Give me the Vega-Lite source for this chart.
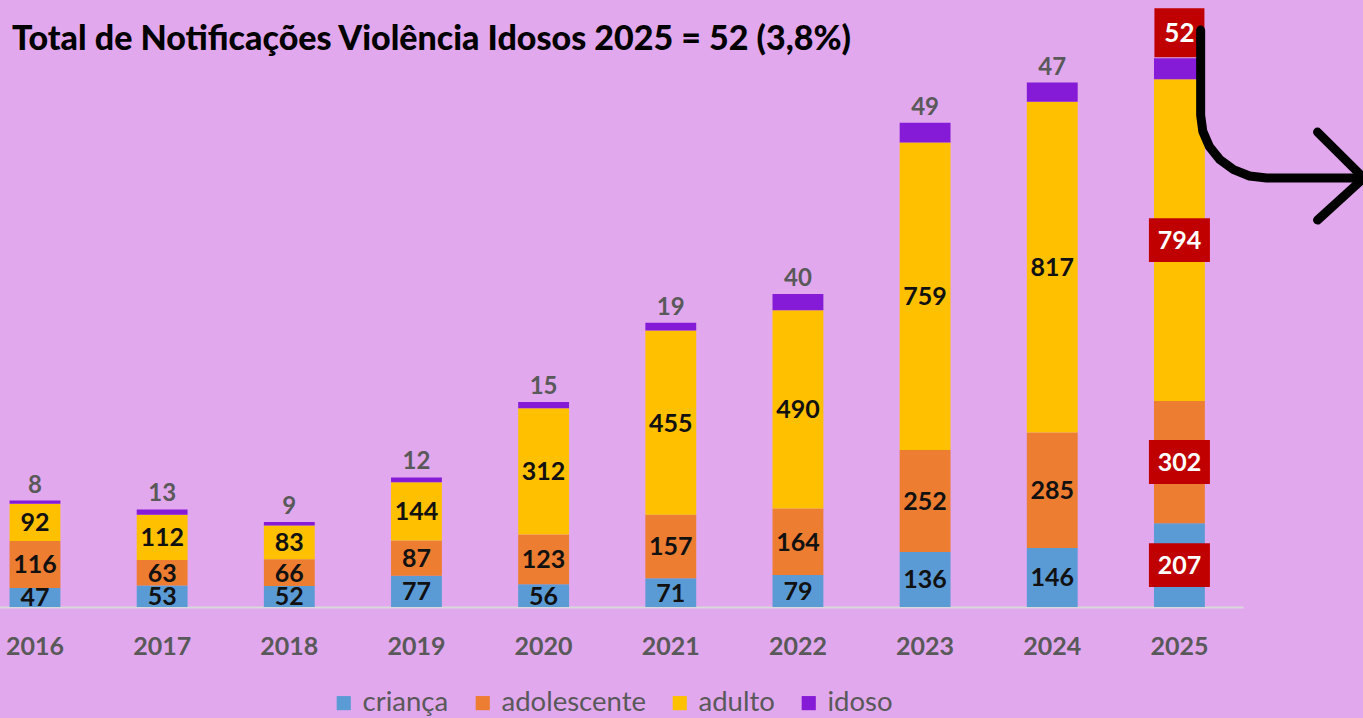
{
  "$schema": "https://vega.github.io/schema/vega-lite/v6.json",
  "width": 1243,
  "height": 607,
  "autosize": {"type": "none"},
  "padding": {"left": 0, "top": 0, "right": 120, "bottom": 111},
  "background": "#E1A8EE",
  "title": {
    "text": "Total de Notificações Violência Idosos 2025 = 52 (3,8%)",
    "anchor": "start",
    "frame": "group",
    "orient": "top",
    "offset": 0,
    "baseline": "alphabetic",
    "dx": 12,
    "dy": 84,
    "font": "Lato",
    "fontSize": 34,
    "fontWeight": 900,
    "color": "#000000"
  },
  "datasets": {
    "bars": [
      {"year": "2016", "cat": "criança", "value": 47},
      {"year": "2016", "cat": "adolescente", "value": 116},
      {"year": "2016", "cat": "adulto", "value": 92},
      {"year": "2016", "cat": "idoso", "value": 8},
      {"year": "2017", "cat": "criança", "value": 53},
      {"year": "2017", "cat": "adolescente", "value": 63},
      {"year": "2017", "cat": "adulto", "value": 112},
      {"year": "2017", "cat": "idoso", "value": 13},
      {"year": "2018", "cat": "criança", "value": 52},
      {"year": "2018", "cat": "adolescente", "value": 66},
      {"year": "2018", "cat": "adulto", "value": 83},
      {"year": "2018", "cat": "idoso", "value": 9},
      {"year": "2019", "cat": "criança", "value": 77},
      {"year": "2019", "cat": "adolescente", "value": 87},
      {"year": "2019", "cat": "adulto", "value": 144},
      {"year": "2019", "cat": "idoso", "value": 12},
      {"year": "2020", "cat": "criança", "value": 56},
      {"year": "2020", "cat": "adolescente", "value": 123},
      {"year": "2020", "cat": "adulto", "value": 312},
      {"year": "2020", "cat": "idoso", "value": 15},
      {"year": "2021", "cat": "criança", "value": 71},
      {"year": "2021", "cat": "adolescente", "value": 157},
      {"year": "2021", "cat": "adulto", "value": 455},
      {"year": "2021", "cat": "idoso", "value": 19},
      {"year": "2022", "cat": "criança", "value": 79},
      {"year": "2022", "cat": "adolescente", "value": 164},
      {"year": "2022", "cat": "adulto", "value": 490},
      {"year": "2022", "cat": "idoso", "value": 40},
      {"year": "2023", "cat": "criança", "value": 136},
      {"year": "2023", "cat": "adolescente", "value": 252},
      {"year": "2023", "cat": "adulto", "value": 759},
      {"year": "2023", "cat": "idoso", "value": 49},
      {"year": "2024", "cat": "criança", "value": 146},
      {"year": "2024", "cat": "adolescente", "value": 285},
      {"year": "2024", "cat": "adulto", "value": 817},
      {"year": "2024", "cat": "idoso", "value": 47},
      {"year": "2025", "cat": "criança", "value": 207},
      {"year": "2025", "cat": "adolescente", "value": 302},
      {"year": "2025", "cat": "adulto", "value": 794},
      {"year": "2025", "cat": "idoso", "value": 52}
    ],
    "arrow": [
      {"path": "a", "i": 1, "ax": 9.667, "ay": 1424.7},
      {"path": "a", "i": 2, "ax": 9.667, "ay": 1214.8},
      {"path": "a", "i": 3, "ax": 9.684, "ay": 1174.6},
      {"path": "a", "i": 4, "ax": 9.736, "ay": 1137.0},
      {"path": "a", "i": 5, "ax": 9.818, "ay": 1104.9},
      {"path": "a", "i": 6, "ax": 9.926, "ay": 1080.0},
      {"path": "a", "i": 7, "ax": 10.051, "ay": 1064.4},
      {"path": "a", "i": 8, "ax": 10.186, "ay": 1059.3},
      {"path": "a", "i": 9, "ax": 10.95, "ay": 1059.3},
      {"path": "b", "i": 1, "ax": 10.586, "ay": 1172.8},
      {"path": "b", "i": 2, "ax": 10.95, "ay": 1059.3},
      {"path": "b", "i": 3, "ax": 10.586, "ay": 955.6}
    ]
  },
  "layer": [
    {
      "data": {"name": "bars"},
      "transform": [
        {"calculate": "indexof(['criança','adolescente','adulto','idoso'], datum.cat)", "as": "ord"},
        {"stack": "value", "groupby": ["year"], "sort": [{"field": "ord", "order": "ascending"}], "as": ["v0", "v1"]},
        {"calculate": "(datum.v0 + datum.v1) / 2", "as": "mid"}
      ],
      "encoding": {
        "x": {
          "field": "year",
          "type": "nominal",
          "title": null,
          "scale": {"range": [-28.6, 1243], "paddingInner": 0.6, "paddingOuter": 0.3},
          "axis": {
            "domainColor": "#D9D9D9",
            "domainWidth": 2,
            "ticks": false,
            "tickSize": 0,
            "labelAngle": 0,
            "labelFont": "Lato",
            "labelFontSize": 25,
            "labelFontWeight": "bold",
            "labelColor": "#595959",
            "labelPadding": 27,
            "grid": false
          }
        }
      },
      "layer": [
        {
          "mark": {"type": "bar"},
          "encoding": {
            "y": {"field": "v0", "type": "quantitative", "scale": {"domain": [0, 1499], "nice": false}, "axis": null},
            "y2": {"field": "v1"},
            "color": {
              "field": "cat",
              "type": "nominal",
              "sort": ["criança", "adolescente", "adulto", "idoso"],
              "scale": {"domain": ["criança", "adolescente", "adulto", "idoso"], "range": ["#5B9BD5", "#ED7D31", "#FFC000", "#851BD6"]},
              "legend": {
                "title": null,
                "orient": "none",
                "direction": "horizontal",
                "legendX": 330,
                "legendY": 689,
                "symbolType": "square",
                "symbolSize": 200,
                "symbolStrokeWidth": 0,
                "labelFont": "Lato",
                "labelFontSize": 27.5,
                "labelColor": "#595959",
                "columnPadding": 20,
                "labelOffset": 5
              }
            }
          }
        },
        {
          "transform": [{"filter": "datum.cat != 'idoso' && datum.year != '2025'"}],
          "mark": {"type": "text", "font": "Lato", "fontSize": 25, "fontWeight": "bold", "color": "#111111", "baseline": "middle", "dy": 1},
          "encoding": {
            "y": {"field": "mid", "type": "quantitative"},
            "text": {"field": "value", "type": "quantitative"}
          }
        },
        {
          "transform": [{"filter": "datum.cat == 'idoso' && datum.year != '2025'"}],
          "mark": {"type": "text", "font": "Lato", "fontSize": 24, "fontWeight": "bold", "color": "#595959", "baseline": "alphabetic", "dy": -8},
          "encoding": {
            "y": {"field": "v1", "type": "quantitative"},
            "text": {"field": "value", "type": "quantitative"}
          }
        },
        {
          "transform": [{"filter": "datum.cat != 'idoso' && datum.year == '2025'"}],
          "mark": {"type": "point", "shape": "M-1,-0.72H1V0.72H-1Z", "size": 3721, "filled": true, "color": "#C00000", "opacity": 1, "strokeWidth": 0},
          "encoding": {
            "y": {"field": "mid", "type": "quantitative"}
          }
        },
        {
          "transform": [{"filter": "datum.cat == 'idoso' && datum.year == '2025'"}],
          "mark": {"type": "point", "shape": "M-1,-2H1V-0.04H-1Z", "size": 2500, "filled": true, "color": "#C00000", "opacity": 1, "strokeWidth": 0},
          "encoding": {
            "y": {"field": "v1", "type": "quantitative"}
          }
        },
        {
          "transform": [{"filter": "datum.cat != 'idoso' && datum.year == '2025'"}],
          "mark": {"type": "text", "font": "Lato", "fontSize": 25, "fontWeight": "bold", "color": "#FFFFFF", "baseline": "middle", "dy": 1},
          "encoding": {
            "y": {"field": "mid", "type": "quantitative"},
            "text": {"field": "value", "type": "quantitative"}
          }
        },
        {
          "transform": [{"filter": "datum.cat == 'idoso' && datum.year == '2025'"}],
          "mark": {"type": "text", "font": "Lato", "fontSize": 26, "fontWeight": "bold", "color": "#FFFFFF", "baseline": "middle", "dy": -24},
          "encoding": {
            "y": {"field": "v1", "type": "quantitative"},
            "text": {"field": "value", "type": "quantitative"}
          }
        }
      ]
    },
    {
      "data": {"name": "arrow"},
      "mark": {"type": "line", "color": "#000000", "strokeWidth": 9, "strokeCap": "round", "strokeJoin": "round", "interpolate": "linear"},
      "encoding": {
        "x": {"field": "ax", "type": "quantitative", "scale": {"domain": [0, 10], "range": [-28.6, 1243], "nice": false, "zero": false}, "axis": null},
        "y": {"field": "ay", "type": "quantitative"},
        "detail": {"field": "path"},
        "order": {"field": "i", "type": "quantitative"}
      }
    }
  ],
  "resolve": {"scale": {"x": "independent"}},
  "config": {
    "view": {"stroke": null},
    "axis": {"grid": false}
  }
}
